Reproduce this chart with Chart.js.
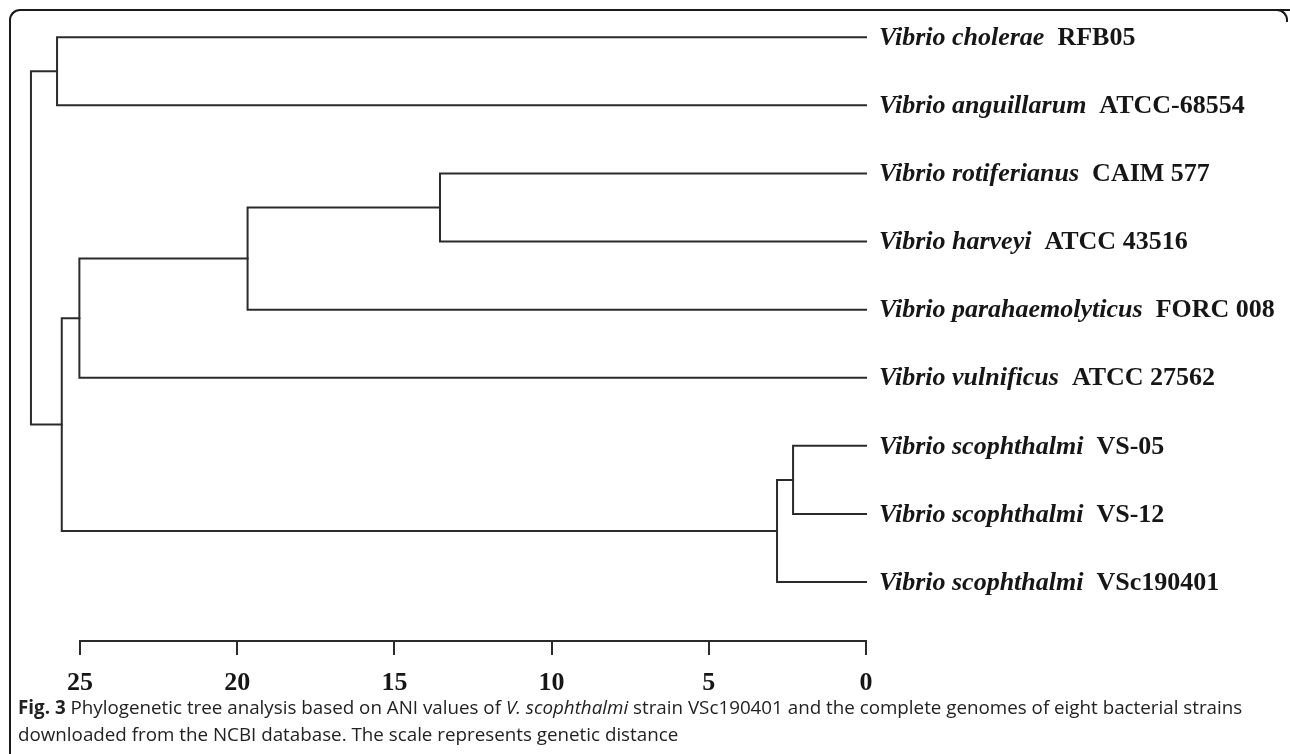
<!DOCTYPE html>
<html>
<head>
<meta charset="utf-8">
<script src="https://cdn.jsdelivr.net/npm/chart.js@4.4.1/dist/chart.umd.min.js"></script>
<style>
  html, body { margin: 0; padding: 0; background: #fff; }
  body { width: 1290px; height: 754px; position: relative; overflow: hidden; }
  #frame {
    position: absolute; left: 9px; top: 9px; width: 1300px; height: 800px;
    border-top: 2px solid #1a1a1a; border-left: 2px solid #1a1a1a;
    border-top-left-radius: 11px; box-sizing: border-box;
  }
  #corner {
    position: absolute; left: 1276px; top: 9px; width: 12px; height: 13px;
    border-top: 2px solid #1a1a1a; border-right: 2px solid #1a1a1a;
    border-top-right-radius: 11px; box-sizing: border-box; background: #fff;
  }
  #holder { position: absolute; left: 0; top: 0; width: 1290px; height: 700px; }
  #caption {
    position: absolute; left: 18px; top: 694px; width: 1268px;
    font-family: "Open Sans", sans-serif; font-size: 18.8px; line-height: 27px; color: #222;
  }
  #caption b { font-weight: 700; }
</style>
</head>
<body>
<div id="frame"></div>
<div id="corner"></div>
<div id="holder"><canvas id="tree"></canvas></div>
<div id="caption"><b>Fig. 3</b> Phylogenetic tree analysis based on ANI values of <i>V. scophthalmi</i> strain VSc190401 and the complete genomes of eight bacterial strains downloaded from the NCBI database. The scale represents genetic distance</div>
<script>
// leaves, top to bottom
const species = ['Vibrio cholerae', 'Vibrio anguillarum', 'Vibrio rotiferianus', 'Vibrio harveyi',
  'Vibrio parahaemolyticus', 'Vibrio vulnificus', 'Vibrio scophthalmi', 'Vibrio scophthalmi', 'Vibrio scophthalmi'];
const strains = ['RFB05', 'ATCC-68554', 'CAIM 577', 'ATCC 43516', 'FORC 008', 'ATCC 27562', 'VS-05', 'VS-12', 'VSc190401'];

// merges, hclust style: negative = leaf (1-based), positive = earlier merge
const mergeLeft = [-7, 1, -3, 3, 4, 5, -1, 7];
const mergeRight = [-8, -9, -4, -5, -6, 2, -2, 6];
const mergeHeight = [2.32, 2.83, 13.55, 19.67, 25.02, 25.58, 25.73, 26.56];

const distanceTicks = [25, 20, 15, 10, 5, 0];

const lineColor = '#2b2b2b';
const textColor = '#161616';

// position of a leaf or a merged node
const nodeY = [];
function posOf(id) {
  if (id < 0) return { x: 0, y: -id - 1 };
  return { x: mergeHeight[id - 1], y: nodeY[id - 1] };
}

const datasets = [];
for (let i = 0; i < mergeHeight.length; i++) {
  const a = posOf(mergeLeft[i]);
  const b = posOf(mergeRight[i]);
  const h = mergeHeight[i];
  nodeY.push((a.y + b.y) / 2);
  datasets.push({
    data: [{ x: a.x, y: a.y }, { x: h, y: a.y }, { x: h, y: b.y }, { x: b.x, y: b.y }],
    borderColor: lineColor,
    borderWidth: 2,
    pointRadius: 0,
    showLine: true,
    tension: 0,
    clip: false,
    borderJoinStyle: 'miter',
    borderCapStyle: 'square'
  });
}

const leafLabels = {
  id: 'leafLabels',
  afterDatasetsDraw(chart) {
    const ctx = chart.ctx;
    const xs = chart.scales.x;
    const ys = chart.scales.y;
    const x0 = xs.getPixelForValue(0) + 13;
    ctx.save();
    ctx.fillStyle = textColor;
    ctx.textBaseline = 'middle';
    ctx.textAlign = 'left';
    for (let i = 0; i < species.length; i++) {
      const y = ys.getPixelForValue(i) + 1;
      ctx.font = 'italic bold 26px "Liberation Serif"';
      ctx.fillText(species[i], x0, y);
      const w = ctx.measureText(species[i]).width;
      ctx.font = 'bold 26px "Liberation Serif"';
      ctx.fillText(strains[i], x0 + w + 13, y);
    }
    ctx.restore();
  }
};

new Chart(document.getElementById('tree'), {
  type: 'scatter',
  data: { datasets: datasets },
  options: {
    responsive: true,
    maintainAspectRatio: false,
    animation: false,
    events: [],
    layout: { padding: { left: 80, right: 424, top: 10, bottom: 0 } },
    plugins: { legend: { display: false }, tooltip: { enabled: false } },
    scales: {
      x: {
        type: 'linear',
        reverse: true,
        afterDataLimits(scale) { scale.min = 0; scale.max = 25; },
        afterBuildTicks(scale) { scale.ticks = distanceTicks.map(v => ({ value: v })); },
        afterFit(scale) { scale.height = 59; },
        border: { display: true, color: lineColor, width: 2 },
        grid: { drawOnChartArea: false, drawTicks: true, tickLength: 14, color: lineColor, lineWidth: 2 },
        ticks: {
          color: textColor,
          padding: 13,
          maxRotation: 0,
          font: { family: '"Liberation Serif"', weight: 'bold', size: 26 }
        }
      },
      y: {
        type: 'linear',
        display: false,
        reverse: true,
        min: -0.4,
        max: 8.866
      }
    }
  },
  plugins: [leafLabels]
});
</script>
</body>
</html>
